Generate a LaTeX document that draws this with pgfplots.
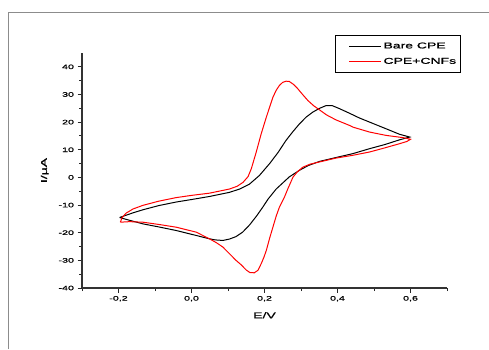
\documentclass[border=0pt]{standalone}
\usepackage{fontspec}
\setmainfont{Liberation Sans}[FakeStretch=1.65, FakeBold=1]
\usepackage{pgfplots}
\pgfplotsset{compat=1.18}
\begin{document}
\begin{tikzpicture}[x=1bp,y=1bp]
\path[use as bounding box] (0,0) rectangle (489,349);
\draw[line width=1.6bp, black!45] (8.5,0) -- (8.5,336.5) -- (489,336.5);
\begin{axis}[
 at={(82bp,61bp)}, anchor=south west,
 scale only axis, width=365bp, height=235bp,
 xmin=-0.3, xmax=0.7, ymin=-40, ymax=45,
 axis x line*=bottom, axis y line*=left,
 axis line style={line width=1.2bp, black!80, -},
 xtick={-0.2,0,0.2,0.4,0.6},
 minor xtick={-0.3,-0.1,0.1,0.3,0.5,0.7},
 ytick={-40,-30,...,40},
 minor ytick={-35,-25,...,35},
 tick align=outside,
 major tick length=4.5bp, minor tick length=3bp,
 tick style={line width=1bp, black!85},
 xticklabel style={/pgf/number format/.cd, fixed, fixed zerofill, precision=1, use comma},
 /pgf/number format/assume math mode=true,
 ticklabel style={font=\fontsize{6.5}{8}\selectfont},
 xlabel={E/V}, ylabel={I/µA},
 label style={font=\fontsize{8.5}{10}\selectfont},
 xlabel style={yshift=-4bp},
 ylabel style={yshift=3bp},
 legend style={at={(0.693,1.077)}, anchor=north west, draw=black, line width=1.2bp,
   font=\fontsize{8.5}{9}\selectfont, inner xsep=13bp, inner ysep=5bp, row sep=4bp},
 legend cell align=left,
 legend image code/.code={\draw[#1] (0bp,0bp) -- (32bp,0bp);},
]
\addplot[black, line width=1bp] coordinates {
(-0.197,-14.5) (-0.160,-12.8) (-0.133,-11.7) (-0.090,-10.2) (-0.042,-8.9)
(0.000,-8.0) (0.049,-6.9) (0.104,-5.4) (0.132,-4.2) (0.159,-2.4)
(0.186,0.7) (0.214,5.0) (0.237,9.0) (0.259,13.4) (0.278,16.6)
(0.296,19.4) (0.314,21.8) (0.332,23.6) (0.351,25.0) (0.369,26.0)
(0.385,26.0) (0.405,24.9) (0.433,23.2) (0.460,21.5) (0.488,20.0)
(0.533,17.6) (0.570,15.6) (0.598,14.6)
(0.570,13.6) (0.530,11.9) (0.488,10.4) (0.442,8.6) (0.396,7.2)
(0.351,5.8) (0.320,4.3) (0.296,2.6) (0.268,0.2) (0.250,-2.0)
(0.232,-4.2) (0.210,-7.8) (0.195,-10.8) (0.178,-14.0) (0.159,-17.2)
(0.140,-19.8) (0.122,-21.4) (0.104,-22.3) (0.086,-22.8) (0.065,-22.6)
(0.049,-22.2) (0.013,-21.0) (-0.042,-19.2) (-0.090,-17.9) (-0.133,-16.8)
(-0.170,-15.5) (-0.197,-14.5)
};
\addlegendentry{\makebox[62bp][l]{Bare CPE}}
\addplot[red, line width=1bp] coordinates {
(-0.195,-16.2) (-0.190,-14.5) (-0.179,-12.9) (-0.160,-11.4) (-0.133,-10.1)
(-0.090,-8.6) (-0.042,-7.3) (0.000,-6.5) (0.049,-5.7) (0.104,-4.2)
(0.125,-3.2) (0.141,-1.8) (0.155,0.3) (0.164,3.2) (0.177,9.0)
(0.191,15.8) (0.205,21.8) (0.215,25.8) (0.223,29.0) (0.232,31.5)
(0.241,33.3) (0.250,34.4) (0.259,34.8) (0.268,34.7) (0.280,33.6)
(0.291,32.1) (0.305,29.9) (0.319,27.8) (0.335,25.9) (0.351,24.4)
(0.370,22.6) (0.396,20.8) (0.433,18.8) (0.442,18.2) (0.488,16.4)
(0.533,15.2) (0.579,14.4) (0.600,13.8)
(0.590,13.0) (0.570,12.2) (0.530,10.7) (0.488,9.2) (0.442,8.0)
(0.396,7.0) (0.351,5.6) (0.325,4.8) (0.305,3.7) (0.290,2.0)
(0.278,0.1) (0.264,-4.1) (0.255,-7.0) (0.241,-10.7) (0.232,-14.0)
(0.223,-18.0) (0.214,-22.0) (0.205,-26.4) (0.198,-29.0) (0.191,-31.2)
(0.182,-33.6) (0.172,-34.5) (0.160,-34.4) (0.150,-33.5) (0.136,-31.6)
(0.122,-30.0) (0.104,-27.6) (0.086,-25.2) (0.068,-23.6) (0.049,-22.2)
(0.013,-19.8) (-0.042,-18.0) (-0.090,-17.0) (-0.133,-16.2) (-0.170,-16.0)
(-0.195,-16.2)
};
\addlegendentry{\makebox[62bp][l]{CPE+CNFs}}
\end{axis}
\end{tikzpicture}
\end{document}
